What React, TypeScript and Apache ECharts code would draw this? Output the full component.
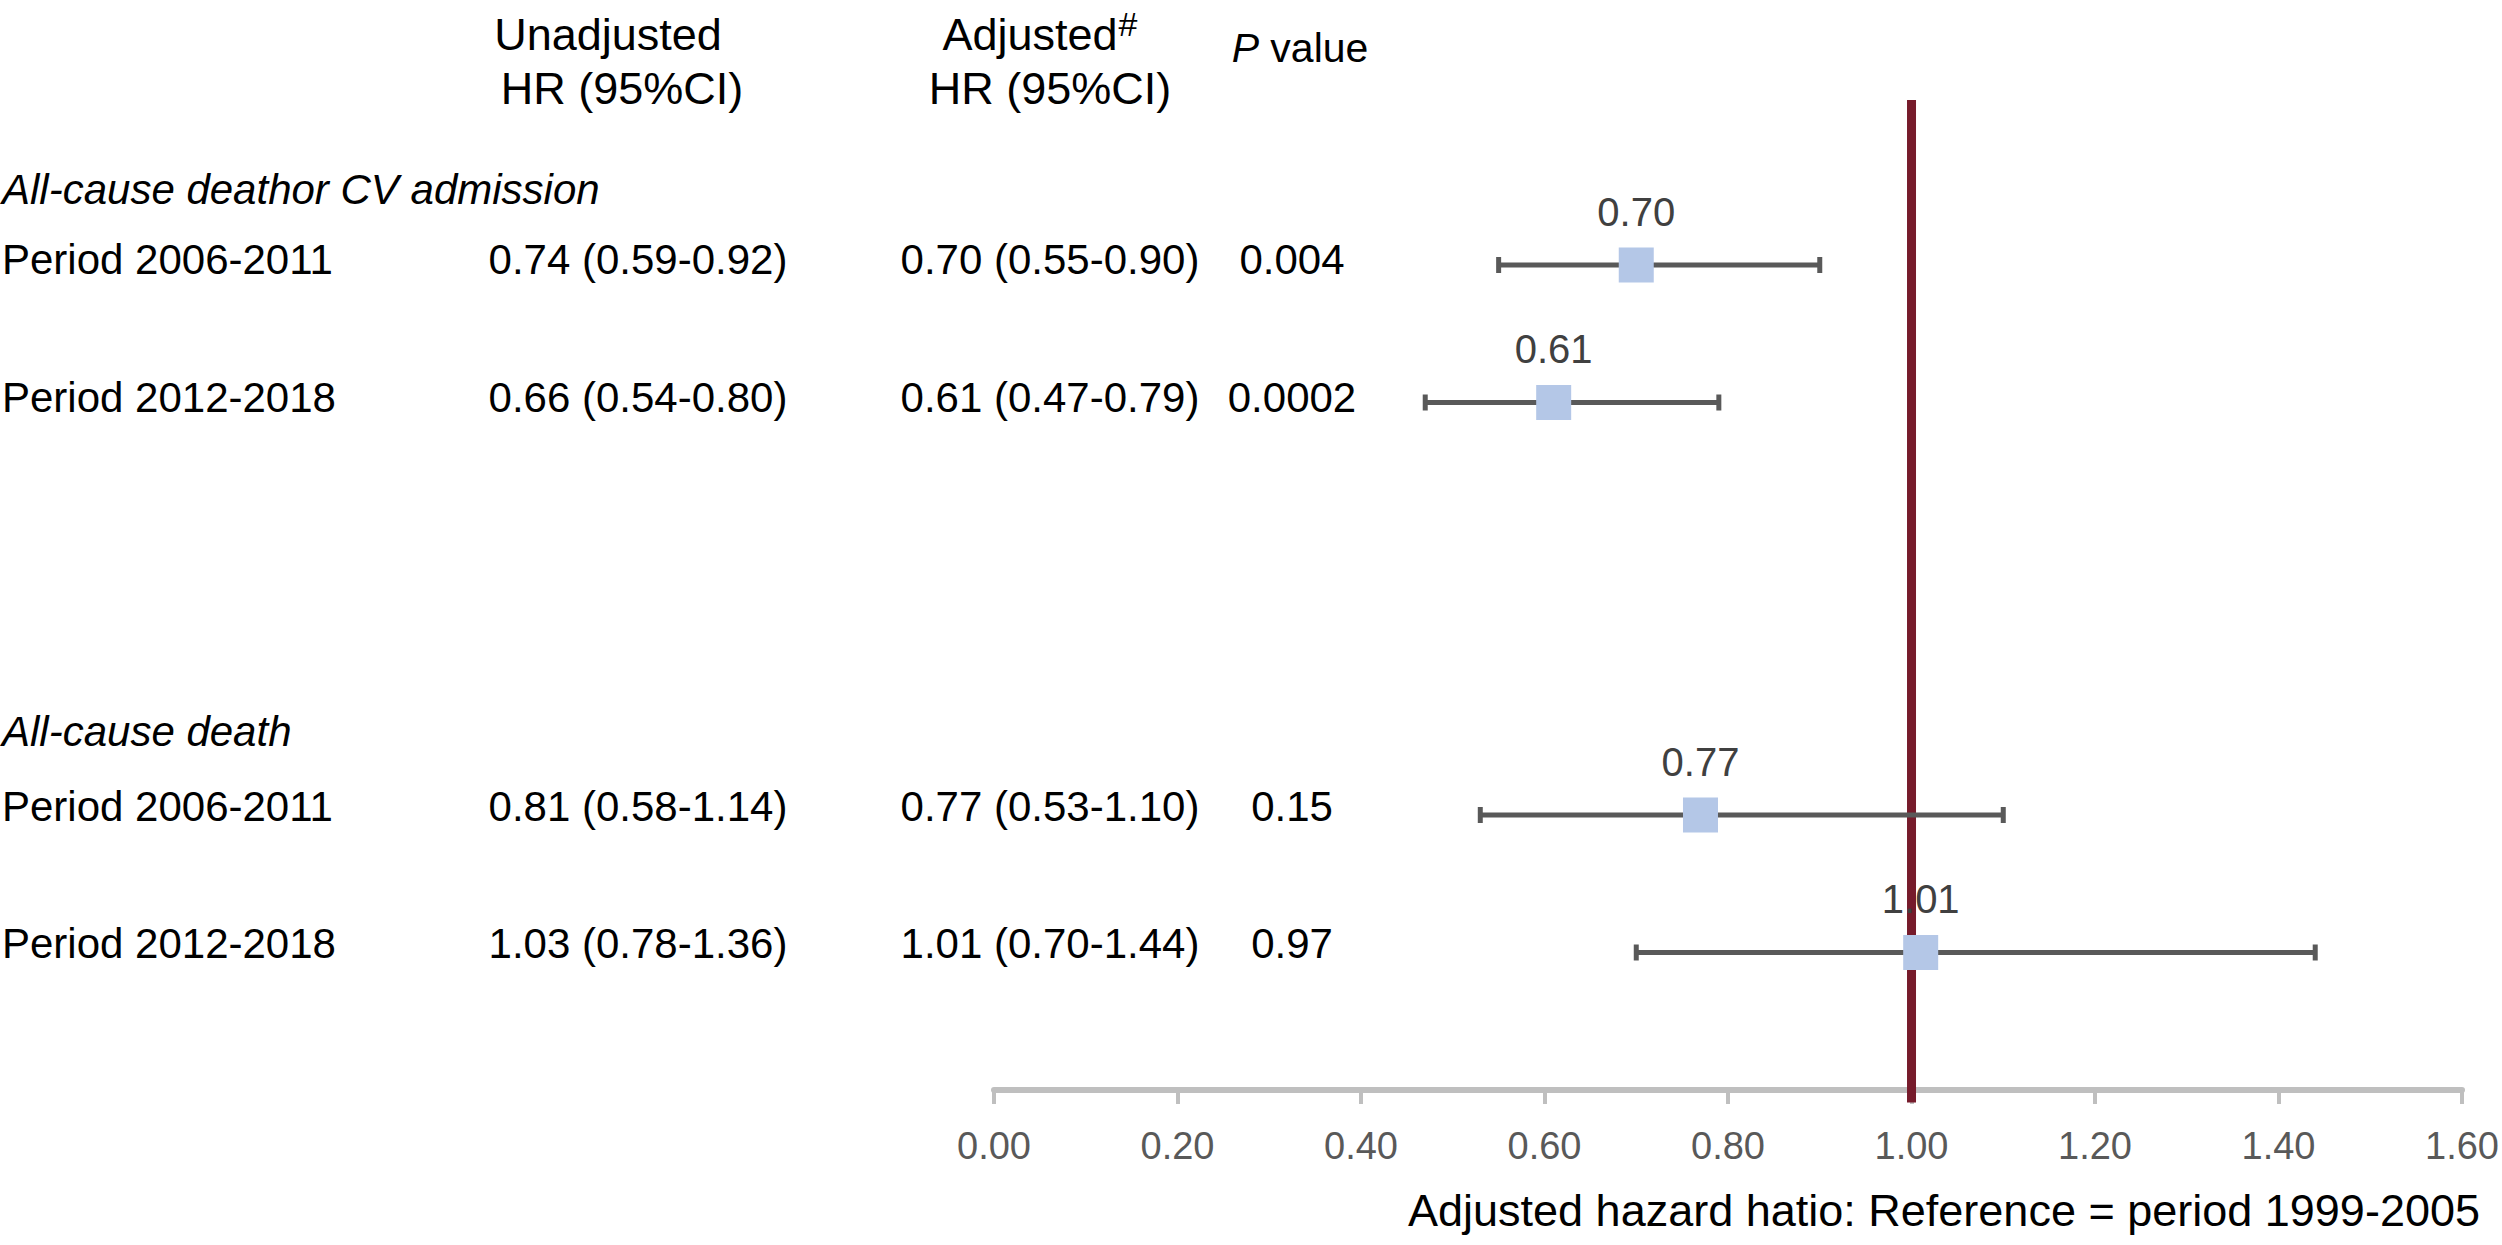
import React, { useEffect, useRef } from 'react';
import * as echarts from 'echarts';

// ---- data ----
const groupLabels = ['All-cause deathor CV admission', 'All-cause death'];
const rowLabels = ['Period 2006-2011', 'Period 2012-2018', 'Period 2006-2011', 'Period 2012-2018'];
const unadjustedHR = ['0.74 (0.59-0.92)', '0.66 (0.54-0.80)', '0.81 (0.58-1.14)', '1.03 (0.78-1.36)'];
const adjustedHR = ['0.70 (0.55-0.90)', '0.61 (0.47-0.79)', '0.77 (0.53-1.10)', '1.01 (0.70-1.44)'];
const pValues = ['0.004', '0.0002', '0.15', '0.97'];
const hrValues = [0.70, 0.61, 0.77, 1.01];
const lowerCI = [0.55, 0.47, 0.53, 0.70];
const upperCI = [0.90, 0.79, 1.10, 1.44];
const rowSlots = [6, 5, 2, 1];
const referenceHR = 1.0;
const xMin = 0;
const xMax = 1.6;
const xInterval = 0.2;
const axisTitle = 'Adjusted hazard hatio: Reference = period 1999-2005';

const FONT = '"Liberation Sans", Arial, Helvetica, sans-serif';

export default function App() {
  const ref = useRef<HTMLDivElement>(null);

  useEffect(() => {
    if (!ref.current) return;
    const chart = echarts.init(ref.current, undefined, { renderer: 'svg' });

    const rowTextY = [259, 397, 806, 943];
    const groupTextY = [189, 731];

    const texts: any[] = [];
    const txt = (x: number, y: number, text: string, extra: any = {}) => ({
      type: 'text',
      x,
      y,
      style: {
        text,
        fontFamily: FONT,
        fontSize: 42,
        fill: '#000',
        align: 'left',
        verticalAlign: 'middle',
        ...extra,
      },
    });

    // headers
    texts.push(txt(608, 34, 'Unadjusted', { align: 'center', fontSize: 45 }));
    texts.push(txt(622, 88, 'HR (95%CI)', { align: 'center', fontSize: 45 }));
    texts.push(txt(1030, 34, 'Adjusted', { align: 'center', fontSize: 45 }));
    texts.push(txt(1118, 24, '#', { fontSize: 34, fontStyle: 'italic' }));
    texts.push(txt(1050, 88, 'HR (95%CI)', { align: 'center', fontSize: 45 }));
    texts.push({
      type: 'text',
      x: 1300,
      y: 48,
      style: {
        text: '{i|P} value',
        fontFamily: FONT,
        fontSize: 41,
        fill: '#000',
        align: 'center',
        verticalAlign: 'middle',
        rich: { i: { fontStyle: 'italic', fontFamily: FONT, fontSize: 41, fill: '#000' } },
      },
    });

    groupLabels.forEach((g, i) => {
      texts.push(txt(2, groupTextY[i], g, { fontStyle: 'italic' }));
    });
    rowLabels.forEach((r, i) => {
      texts.push(txt(2, rowTextY[i], r));
      texts.push(txt(638, rowTextY[i], unadjustedHR[i], { align: 'center' }));
      texts.push(txt(1050, rowTextY[i], adjustedHR[i], { align: 'center' }));
      texts.push(txt(1292, rowTextY[i], pValues[i], { align: 'center' }));
    });
    texts.push(txt(2480, 1210, axisTitle, { align: 'right', fontSize: 45 }));

    const option: any = {
      animation: false,
      backgroundColor: '#fff',
      grid: { left: 994, right: 38, top: 100, bottom: 155, containLabel: false },
      xAxis: {
        type: 'value',
        min: xMin,
        max: xMax,
        interval: xInterval,
        axisLine: { show: true, onZero: false, lineStyle: { color: '#bfbfbf', width: 6 } },
        axisTick: { show: true, length: 14, lineStyle: { color: '#bfbfbf', width: 4 } },
        axisLabel: {
          formatter: (v: number) => v.toFixed(2),
          fontSize: 38,
          color: '#595959',
          fontFamily: FONT,
          margin: 37,
        },
        splitLine: { show: false },
      },
      yAxis: {
        type: 'value',
        min: 0,
        max: 7.2,
        show: false,
        splitLine: { show: false },
      },
      series: [
        {
          type: 'line',
          data: [[referenceHR, -0.09], [referenceHR, 7.2]],
          symbol: 'none',
          clip: false,
          lineStyle: { color: '#761b2b', width: 9 },
          z: 2,
          silent: true,
        },
        {
          type: 'custom',
          data: rowSlots.map((s, i) => [lowerCI[i], s, upperCI[i]]),
          encode: { x: [0, 2], y: 1 },
          z: 3,
          renderItem: (params: any, api: any) => {
            const lo = api.value(0);
            const y = api.value(1);
            const hi = api.value(2);
            const p1 = api.coord([lo, y]);
            const p2 = api.coord([hi, y]);
            const stroke = '#595959';
            return {
              type: 'group',
              children: [
                { type: 'line', shape: { x1: p1[0], y1: p1[1], x2: p2[0], y2: p2[1] }, style: { stroke, lineWidth: 5 } },
                { type: 'line', shape: { x1: p1[0], y1: p1[1] - 8, x2: p1[0], y2: p1[1] + 8 }, style: { stroke, lineWidth: 5 } },
                { type: 'line', shape: { x1: p2[0], y1: p2[1] - 8, x2: p2[0], y2: p2[1] + 8 }, style: { stroke, lineWidth: 5 } },
              ],
            };
          },
        },
        {
          type: 'scatter',
          data: rowSlots.map((s, i) => [hrValues[i], s]),
          symbol: 'rect',
          symbolSize: 35,
          itemStyle: { color: '#b4c7e7', opacity: 1 },
          z: 4,
          label: {
            show: true,
            position: 'top',
            distance: 16,
            formatter: (p: any) => p.value[0].toFixed(2),
            fontSize: 40,
            color: '#404040',
            fontFamily: FONT,
          },
        },
      ],
      graphic: texts,
    };

    chart.setOption(option);
    return () => chart.dispose();
  }, []);

  return (
    <div
      ref={ref}
      style={{ position: 'fixed', left: 0, top: 0, width: 2502, height: 1245, background: '#fff' }}
    />
  );
}
